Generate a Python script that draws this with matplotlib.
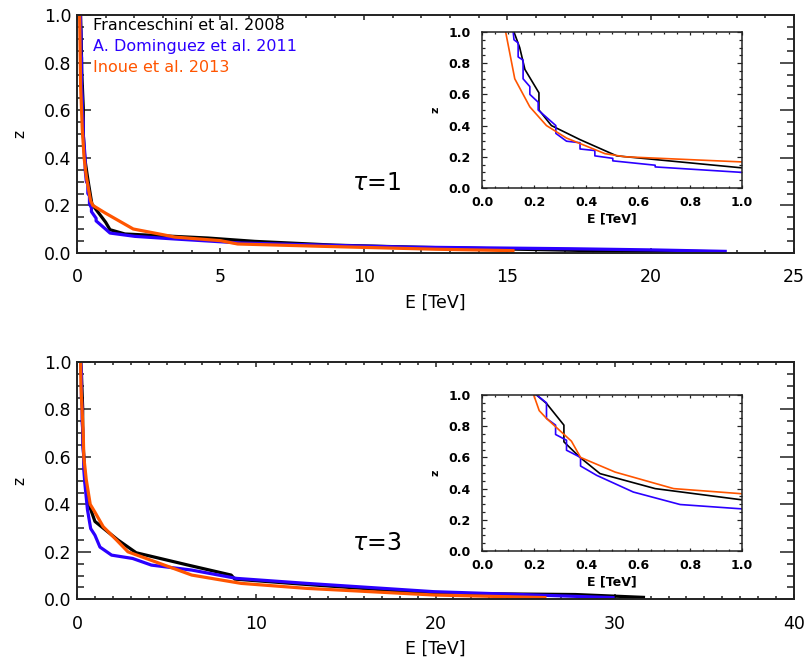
import matplotlib
matplotlib.use("Agg")
import matplotlib.pyplot as plt
from matplotlib.ticker import MultipleLocator

# ---------------- data (E in TeV, z) ----------------
# tau = 1
f08_E_t1 = [0.123, 0.145, 0.165, 0.219, 0.219, 0.267, 0.377, 0.518, 1.0, 1.15, 1.67, 4.57, 6.2, 9.0, 12.0, 17.5, 22.0]
f08_z_t1 = [1.0, 0.90, 0.76, 0.61, 0.50, 0.40, 0.31, 0.206, 0.129, 0.098, 0.080, 0.063, 0.049, 0.033, 0.024, 0.011, 0.006]

d11_E_t1 = [0.12, 0.123, 0.139, 0.139, 0.158, 0.158, 0.184, 0.184, 0.216, 0.216, 0.284, 0.284,
            0.325, 0.377, 0.377, 0.434, 0.434, 0.503, 0.503, 0.666, 0.666, 1.0,
            1.15, 2.02, 3.41, 5.73, 8.05, 11.5, 17.2, 20.1, 22.6]
d11_z_t1 = [1.0, 0.95, 0.93, 0.84, 0.82, 0.70, 0.65, 0.60, 0.55, 0.50, 0.40, 0.35,
            0.30, 0.29, 0.25, 0.24, 0.206, 0.19, 0.174, 0.146, 0.135, 0.10,
            0.084, 0.070, 0.059, 0.042, 0.035, 0.025, 0.018, 0.013, 0.007]

i13_E_t1 = [0.091, 0.126, 0.184, 0.248, 0.325, 0.473, 0.55, 1.0, 1.96, 3.0, 3.41, 5.0, 5.6, 8.6, 12.5, 15.2]
i13_z_t1 = [1.0, 0.70, 0.52, 0.40, 0.32, 0.22, 0.20, 0.167, 0.101, 0.077, 0.067, 0.052, 0.038, 0.028, 0.016, 0.010]

# tau = 3
f08_E_t3 = [0.21, 0.248, 0.315, 0.315, 0.377, 0.454, 0.666, 1.0, 2.28, 3.3, 6.2, 8.6, 8.8, 12.5, 19.9, 27.8, 31.6]
f08_z_t3 = [1.0, 0.946, 0.807, 0.70, 0.60, 0.496, 0.40, 0.328, 0.25, 0.196, 0.144, 0.102, 0.085, 0.064, 0.025, 0.020, 0.008]

d11_E_t3 = [0.21, 0.248, 0.248, 0.283, 0.283, 0.325, 0.325, 0.379, 0.379, 0.441, 0.582, 0.762, 1.0,
            1.28, 1.93, 3.1, 4.15, 6.4, 8.9, 12.8, 19.9, 29.9]
d11_z_t3 = [1.0, 0.95, 0.85, 0.807, 0.747, 0.71, 0.646, 0.60, 0.545, 0.485, 0.378, 0.298, 0.27,
            0.22, 0.186, 0.172, 0.144, 0.123, 0.088, 0.067, 0.032, 0.007]

i13_E_t3 = [0.199, 0.22, 0.248, 0.344, 0.379, 0.512, 0.737, 1.0, 1.46, 2.2, 2.84, 6.4, 9.15, 12.8, 19.9, 26.1]
i13_z_t3 = [1.0, 0.90, 0.85, 0.704, 0.60, 0.506, 0.40, 0.367, 0.306, 0.25, 0.20, 0.102, 0.067, 0.046, 0.018, 0.007]

labels = ["Franceschini et al. 2008", "A. Dominguez et al. 2011", "Inoue et al. 2013"]
colors = ["black", "#2b00ff", "#ff5500"]

# ---------------- figure ----------------
plt.rcParams['font.family'] = ['DejaVu Sans']
fig = plt.figure(figsize=(8.09, 6.61), dpi=100)

main_pos = [[0.0952, 0.6172, 0.8863, 0.3601], [0.0952, 0.0934, 0.8863, 0.3589]]
inset_pos = [[0.5958, 0.7156, 0.3214, 0.2360], [0.5958, 0.1664, 0.3214, 0.2360]]
xmax = [25, 40]
xmaj = [5, 10]
taus = ["1", "3"]
tau_xy = [(0.384, 0.294), (0.384, 0.237)]
data = [
    [(f08_E_t1, f08_z_t1), (d11_E_t1, d11_z_t1), (i13_E_t1, i13_z_t1)],
    [(f08_E_t3, f08_z_t3), (d11_E_t3, d11_z_t3), (i13_E_t3, i13_z_t3)],
]

def style_axes(ax, fs, pad_x, pad_y, lmaj_x, lmaj_y, lw):
    for s in ax.spines.values():
        s.set_linewidth(lw)
        s.set_color('#222222')
    ax.tick_params(axis='both', which='both', direction='in', top=True, right=True,
                   labelsize=fs, width=lw * 0.8, color='#222222')
    ax.tick_params(axis='x', which='major', length=lmaj_x, pad=pad_x)
    ax.tick_params(axis='x', which='minor', length=lmaj_x * 0.5)
    ax.tick_params(axis='y', which='major', length=lmaj_y, pad=pad_y)
    ax.tick_params(axis='y', which='minor', length=lmaj_y * 0.5)

for i in range(2):
    ax = fig.add_axes(main_pos[i])
    for (E, z), c in zip(data[i], colors):
        ax.plot(E, z, color=c, lw=2.3, solid_joinstyle='round')
    ax.set_xlim(0, xmax[i])
    ax.set_ylim(0, 1)
    ax.xaxis.set_major_locator(MultipleLocator(xmaj[i]))
    ax.xaxis.set_minor_locator(MultipleLocator(1))
    ax.yaxis.set_major_locator(MultipleLocator(0.2))
    ax.yaxis.set_minor_locator(MultipleLocator(0.05))
    ax.yaxis.set_major_formatter(matplotlib.ticker.FormatStrFormatter('%.1f'))
    style_axes(ax, 12.5, 11, 4, 3.8, 10, 1.4)
    ax.set_xlabel("E [TeV]", fontsize=12.5, labelpad=5)
    ax.set_ylabel("z", fontsize=11, labelpad=12)
    ax.text(tau_xy[i][0], tau_xy[i][1], r"$\tau$=" + taus[i], transform=ax.transAxes,
            fontsize=17, ha='left', va='center')
    if i == 0:
        for k, (lab, c) in enumerate(zip(labels, colors)):
            ax.text(0.022, 0.954 - k * 0.088, lab, color=c, transform=ax.transAxes,
                    fontsize=11.5, ha='left', va='center')

    ins = fig.add_axes(inset_pos[i])
    for (E, z), c in zip(data[i], colors):
        ins.plot(E, z, color=c, lw=1.2)
    ins.set_xlim(0, 1)
    ins.set_ylim(0, 1)
    ins.xaxis.set_major_locator(MultipleLocator(0.2))
    ins.xaxis.set_minor_locator(MultipleLocator(0.05))
    ins.yaxis.set_major_locator(MultipleLocator(0.2))
    ins.yaxis.set_minor_locator(MultipleLocator(0.05))
    ins.xaxis.set_major_formatter(matplotlib.ticker.FormatStrFormatter('%.1f'))
    ins.yaxis.set_major_formatter(matplotlib.ticker.FormatStrFormatter('%.1f'))
    style_axes(ins, 9, 6, 8, 2.5, 3.8, 1.1)
    for t in ins.get_xticklabels() + ins.get_yticklabels():
        t.set_fontweight('bold')
    ins.set_xlabel("E [TeV]", fontsize=9, fontweight='bold', labelpad=2)
    ins.set_ylabel("z", fontsize=8, fontweight='bold', labelpad=6)

fig.savefig("out.png", dpi=100)
